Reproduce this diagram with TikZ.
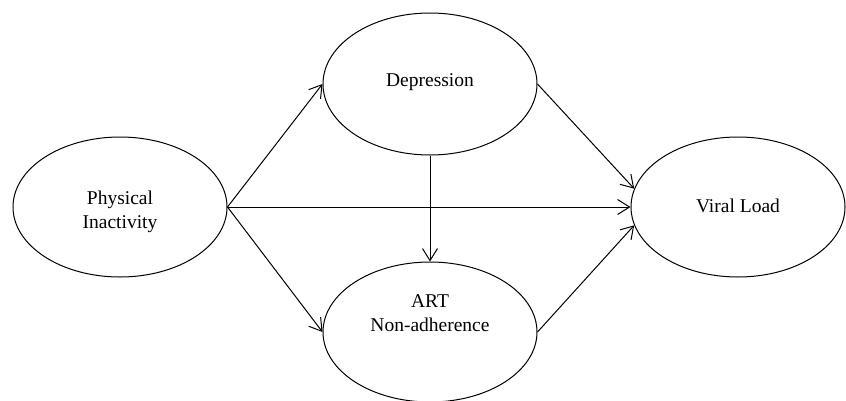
\documentclass[tikz,border=0pt]{standalone}
\usepackage{fontspec}
\setmainfont{Liberation Serif}
\usetikzlibrary{shapes.geometric,arrows.meta}
\begin{document}
\begin{tikzpicture}[x=1pt,y=-1pt,
  oval/.style={draw, ellipse, line width=1pt, inner sep=0pt, minimum width=214pt, minimum height=140pt},
  lbl/.style={align=center, font=\fontsize{19.5}{23.5}\selectfont, inner sep=0pt},
  conn/.style={line width=1pt, -{Straight Barb[length=12pt,width=15pt,line width=1pt]}}]
\useasboundingbox (0,0) rectangle (846,400);
\node[oval] (pi) at (120,207) {};
\node[oval, minimum height=142pt] (dep) at (430,84) {};
\node[oval] (art) at (430,332) {};
\node[oval] (vl) at (738,207) {};
\node[lbl] (tpi) at (120,212) {Physical\\Inactivity};
\node[lbl] (tdep) at (430,82) {Depression};
\node[lbl] (tart) at (430,313) {ART\\Non-adherence};
\node[lbl] (tvl) at (738,206) {Viral Load};
\draw[conn] (pi.east) -- (dep.west);
\draw[conn] (pi.east) -- (art.west);
\draw[conn] (pi.east) -- (vl.west);
\draw[conn] (dep.south) -- (art.north);
\draw[conn] (dep.east) -- (vl.170);
\draw[conn] (art.east) -- (vl.190);
\end{tikzpicture}
\end{document}
